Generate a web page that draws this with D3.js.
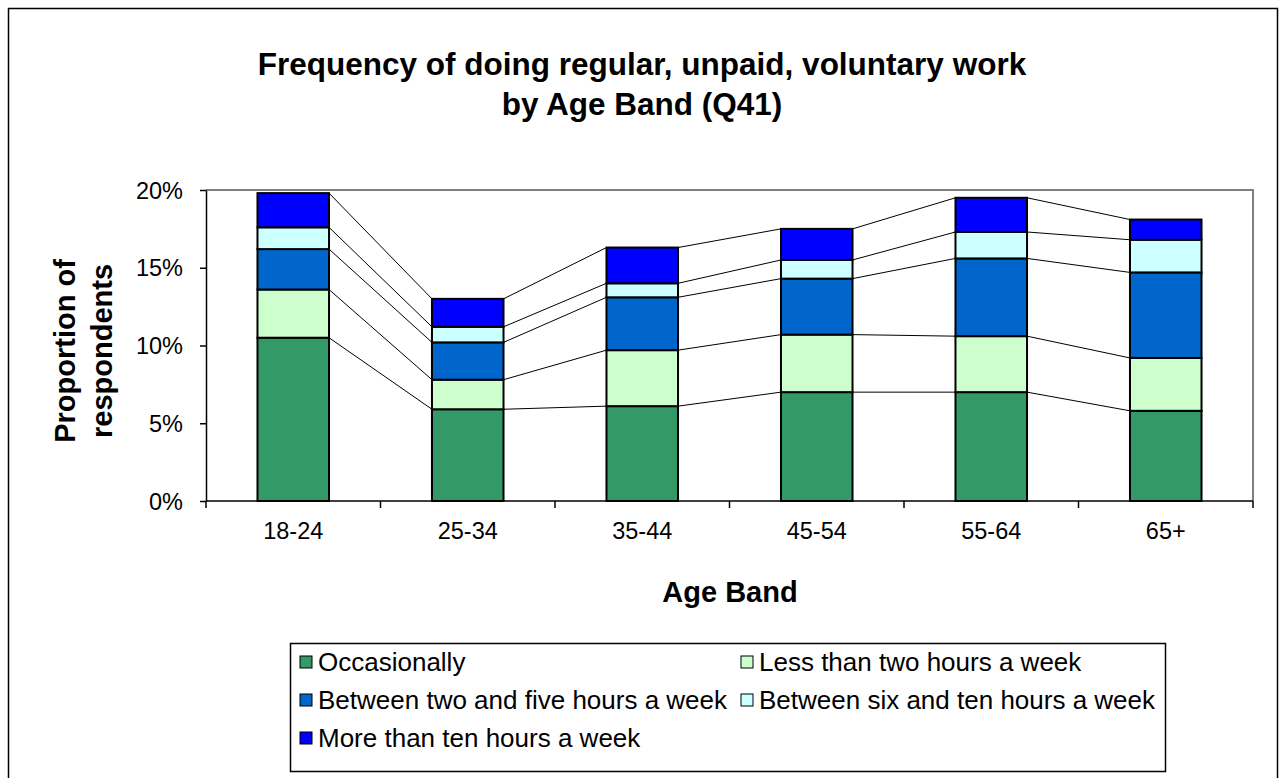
<!DOCTYPE html>
<html>
<head>
<meta charset="utf-8">
<script src="https://cdn.jsdelivr.net/npm/d3@7"></script>
<style>
  body { margin: 0; background: #fff; }
  svg text { font-family: "Liberation Sans", Arial, sans-serif; fill: #000; }
</style>
</head>
<body>
<div id="chart"></div>
<script>

// data (percent of respondents)
var age_bands = ['18-24', '25-34', '35-44', '45-54', '55-64', '65+']

var series_names = [
    'Occasionally',
    'Less than two hours a week',
    'Between two and five hours a week',
    'Between six and ten hours a week',
    'More than ten hours a week'
]

var occasionally      = [10.5, 5.9, 6.1, 7.0, 7.0, 5.8]
var less_than_two     = [3.1, 1.9, 3.6, 3.7, 3.6, 3.4]
var two_to_five       = [2.6, 2.4, 3.4, 3.6, 5.0, 5.5]
var six_to_ten        = [1.4, 1.0, 0.9, 1.2, 1.7, 2.1]
var more_than_ten     = [2.2, 1.8, 2.3, 2.0, 2.2, 1.3]

var y_ticks = [0, 5, 10, 15, 20]

var series_colours = ['#339966', '#CCFFCC', '#0066CC', '#CCFFFF', '#0000FF']

var width = 1281,
    height = 778

var plot = { left: 206, right: 1253, top: 190, bottom: 501 }

var svg = d3.select('#chart').append('svg')
    .attr('width', width)
    .attr('height', height)

// outer frame
svg.append('rect')
    .attr('x', 8.5).attr('y', 8.5)
    .attr('width', 1269).attr('height', 780)
    .style('fill', 'none')
    .style('stroke', '#000')
    .style('stroke-width', 1.5)

// build stacked rows
var dataset = age_bands.map(function(band, i) {
    return {
        band: band,
        s0: occasionally[i],
        s1: less_than_two[i],
        s2: two_to_five[i],
        s3: six_to_ten[i],
        s4: more_than_ten[i]
    }
})

var keys = ['s0', 's1', 's2', 's3', 's4']
var stacked = d3.stack().keys(keys)(dataset)

// scales
var xScale = d3.scaleBand()
    .domain(age_bands)
    .range([plot.left, plot.right])
    .paddingInner(0.59)
    .paddingOuter(0.295)

var yScale = d3.scaleLinear()
    .domain([0, 20])
    .range([plot.bottom, plot.top])

// plot area border (top / right grey)
svg.append('path')
    .attr('d', 'M' + plot.left + ',' + plot.top + 'H' + plot.right + 'V' + plot.bottom)
    .style('fill', 'none')
    .style('stroke', '#808080')
    .style('stroke-width', 2)

// connector lines between the bars
var lines_layer = svg.append('g').classed('connectors', true)

stacked.forEach(function(layer) {
    for (var i = 0; i < layer.length - 1; i++) {
        lines_layer.append('line')
            .attr('x1', xScale(age_bands[i]) + xScale.bandwidth())
            .attr('x2', xScale(age_bands[i + 1]))
            .attr('y1', yScale(layer[i][1]))
            .attr('y2', yScale(layer[i + 1][1]))
            .style('stroke', '#000')
            .style('stroke-width', 1)
    }
})

// bars
var data_layer = svg.append('g').classed('data-layer', true)

data_layer.selectAll('g')
    .data(stacked)
    .enter()
    .append('g')
    .style('fill', function(d, i) { return series_colours[i] })
    .selectAll('rect')
    .data(d => d)
    .enter()
    .append('rect')
    .attr('x', d => xScale(d.data.band))
    .attr('width', xScale.bandwidth())
    .attr('y', d => yScale(d[1]))
    .attr('height', d => yScale(d[0]) - yScale(d[1]))
    .style('stroke', '#000')
    .style('stroke-width', 2)

// y axis
var yAxisGenerator = d3.axisLeft(yScale)
    .tickValues(y_ticks)
    .tickSize(6)
    .tickSizeOuter(0)
    .tickPadding(17)
    .tickFormat(d => d + '%')

var yAxis = svg.append('g')
    .classed('y axis', true)
    .attr('transform', 'translate(' + plot.left + ',0)')
    .call(yAxisGenerator)

yAxis.select('.domain').style('stroke', '#000').style('stroke-width', 1.5)
yAxis.selectAll('.tick line').style('stroke', '#000').style('stroke-width', 1.5)
yAxis.selectAll('.tick text')
    .style('font-size', '23.5px')
    .attr('dy', '0.35em')
    .style('font-family', '"Liberation Sans", Arial, sans-serif')

// x axis - ticks sit on the category boundaries
var step = xScale.step()
var boundaries = d3.range(age_bands.length + 1).map(i => plot.left + i * step)

var xAxis = svg.append('g').classed('x axis', true)

xAxis.append('line')
    .attr('x1', plot.left).attr('x2', plot.right)
    .attr('y1', plot.bottom).attr('y2', plot.bottom)
    .style('stroke', '#000')
    .style('stroke-width', 1.5)

xAxis.selectAll('.xtick')
    .data(boundaries)
    .enter()
    .append('line')
    .attr('x1', d => d).attr('x2', d => d)
    .attr('y1', plot.bottom).attr('y2', plot.bottom + 7)
    .style('stroke', '#000')
    .style('stroke-width', 1.5)

xAxis.selectAll('.xlabel')
    .data(age_bands)
    .enter()
    .append('text')
    .attr('x', d => xScale(d) + xScale.bandwidth() / 2)
    .attr('y', 539)
    .attr('text-anchor', 'middle')
    .style('font-size', '23.5px')
    .text(d => d)

// titles
var title = svg.append('text')
    .attr('x', 642)
    .attr('text-anchor', 'middle')
    .style('font-size', '31.5px')
    .style('font-weight', 'bold')

title.append('tspan').attr('x', 642).attr('y', 75)
    .text('Frequency of doing regular, unpaid, voluntary work')
title.append('tspan').attr('x', 642).attr('y', 115)
    .text('by Age Band (Q41)')

svg.append('text')
    .attr('x', 730)
    .attr('y', 602)
    .attr('text-anchor', 'middle')
    .style('font-size', '29px')
    .style('font-weight', 'bold')
    .text('Age Band')

var yTitle = svg.append('text')
    .attr('transform', 'translate(0,351) rotate(-90)')
    .attr('text-anchor', 'middle')
    .style('font-size', '29px')
    .style('font-weight', 'bold')

yTitle.append('tspan').attr('x', 0).attr('y', 75).text('Proportion of')
yTitle.append('tspan').attr('x', 0).attr('y', 112).text('respondents')

// legend
var legend = svg.append('g').classed('legend', true)

legend.append('rect')
    .attr('x', 290.5).attr('y', 643.5)
    .attr('width', 875).attr('height', 128)
    .style('fill', '#fff')
    .style('stroke', '#000')
    .style('stroke-width', 1.5)

var legend_pos = [
    { x: 300, y: 662 },
    { x: 741, y: 662 },
    { x: 300, y: 700 },
    { x: 741, y: 700 },
    { x: 300, y: 738 }
]

var legend_items = legend.selectAll('.legend-item')
    .data(series_names)
    .enter()
    .append('g')
    .attr('transform', (d, i) => 'translate(' + legend_pos[i].x + ',' + legend_pos[i].y + ')')

legend_items.append('rect')
    .attr('x', 0).attr('y', -6)
    .attr('width', 12).attr('height', 12)
    .style('fill', (d, i) => series_colours[i])
    .style('stroke', '#000')
    .style('stroke-width', 1)

legend_items.append('text')
    .attr('x', 18)
    .attr('y', 0)
    .attr('dy', '0.35em')
    .style('font-size', '26px')
    .text(d => d)

</script>
</body>
</html>
